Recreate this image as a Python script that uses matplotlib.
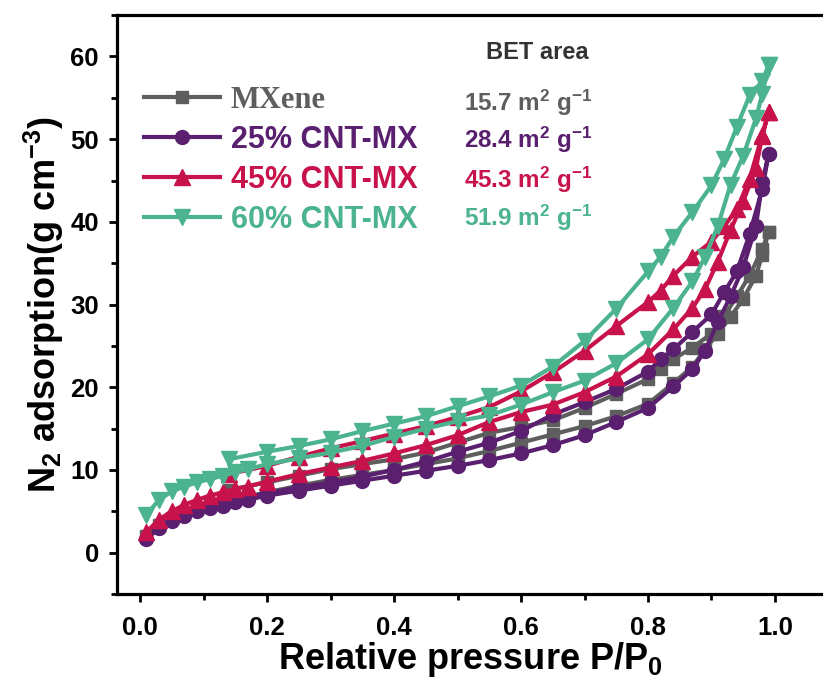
import matplotlib.pyplot as plt
from matplotlib.ticker import MultipleLocator

plt.rcParams['font.family'] = ['Liberation Sans', 'DejaVu Sans']
plt.rcParams['mathtext.default'] = 'regular'

# relative pressure grids (adsorption up, desorption down)
p_ads = [0.01, 0.03, 0.05, 0.07, 0.09, 0.11, 0.13, 0.15, 0.17, 0.2, 0.25, 0.3, 0.35, 0.4, 0.45,
         0.5, 0.55, 0.6, 0.65, 0.7, 0.75, 0.8, 0.84, 0.87, 0.89, 0.91, 0.93, 0.95, 0.97, 0.98, 0.99]
p_des = [0.99, 0.98, 0.96, 0.94, 0.92, 0.9, 0.87, 0.84, 0.82, 0.8, 0.75, 0.7, 0.65, 0.6, 0.55,
         0.5, 0.45, 0.4, 0.35, 0.3, 0.25, 0.2, 0.14]

mxene_ads = [2.0, 3.3, 4.2, 4.8, 5.4, 5.8, 6.1, 6.5, 6.8, 7.3, 8.1, 8.8, 9.4, 10.0, 10.7,
             11.4, 12.3, 13.3, 14.3, 15.3, 16.5, 18.0, 20.5, 22.5, 24.6, 26.5, 28.5, 30.7, 33.5, 36.0, 38.8]
mxene_des = [38.8, 36.7, 33.5, 31.0, 28.6, 26.5, 24.8, 23.4, 22.2, 21.0, 19.2, 17.5, 16.0, 15.2, 14.5,
             13.3, 12.1, 11.3, 10.7, 10.1, 9.3, 8.5, 7.6]

cnt25_ads = [1.6, 3.0, 3.8, 4.4, 5.0, 5.4, 5.7, 6.1, 6.4, 6.9, 7.5, 8.1, 8.7, 9.3, 9.9,
             10.5, 11.2, 12.0, 13.0, 14.2, 15.8, 17.5, 20.1, 22.2, 24.4, 27.9, 31.0, 34.5, 39.5, 44.8, 48.2]
cnt25_des = [48.2, 44.0, 38.5, 34.0, 31.5, 28.8, 26.7, 24.6, 23.4, 21.9, 19.8, 18.2, 16.7, 14.7, 13.3,
             12.2, 11.0, 10.0, 9.2, 8.5, 7.9, 7.2, 6.3]

cnt45_ads = [2.5, 4.0, 5.0, 5.8, 6.4, 6.9, 7.3, 7.7, 8.0, 8.6, 9.5, 10.3, 11.1, 12.0, 13.0,
             14.2, 15.8, 17.0, 17.9, 19.4, 21.3, 24.0, 27.0, 29.6, 31.9, 35.2, 39.0, 42.5, 46.5, 50.4, 53.3]
cnt45_des = [53.3, 50.5, 45.2, 41.5, 39.5, 37.6, 35.8, 33.5, 31.7, 30.3, 27.4, 24.4, 21.8, 19.5, 17.6,
             16.4, 15.3, 14.4, 13.5, 12.6, 11.6, 10.5, 9.5]

cnt60_ads = [4.6, 6.4, 7.4, 8.0, 8.5, 8.9, 9.3, 9.7, 10.1, 10.7, 11.4, 12.1, 12.9, 14.0, 15.0,
             15.9, 16.6, 17.9, 19.4, 20.8, 22.9, 25.8, 29.6, 32.8, 35.8, 39.5, 44.5, 48.0, 52.5, 55.5, 59.0]
cnt60_des = [59.0, 57.0, 55.3, 51.5, 47.6, 44.4, 41.2, 38.2, 35.8, 34.0, 29.5, 25.6, 22.5, 20.2, 18.9,
             17.7, 16.5, 15.6, 14.7, 13.7, 12.9, 12.2, 11.3]

labels = ['MXene', '25% CNT-MX', '45% CNT-MX', '60% CNT-MX']
bet = ['15.7 m$^2$ g$^{-1}$', '28.4 m$^2$ g$^{-1}$', '45.3 m$^2$ g$^{-1}$', '51.9 m$^2$ g$^{-1}$']
colors = ['#5e5e5e', '#5a1f6e', '#c8124b', '#4cb38f']
markers = ['s', 'o', '^', 'v']
msizes = [9, 10, 11, 11]

series = [(mxene_ads, mxene_des), (cnt25_ads, cnt25_des),
          (cnt45_ads, cnt45_des), (cnt60_ads, cnt60_des)]

fig = plt.figure(figsize=(8.23, 6.9), dpi=100)
ax = fig.add_axes([0.1422, 0.1391, 0.8578, 0.839])

handles = []
for (ads, des), c, m, ms, lab in zip(series, colors, markers, msizes, labels):
    h, = ax.plot(p_ads + p_des, ads + des, color=c, marker=m, markersize=ms,
                 linewidth=3, label=lab)
    handles.append(h)

ax.set_xlim(-0.0362, 1.0756)
ax.set_ylim(-5, 65)
ax.xaxis.set_major_locator(MultipleLocator(0.2))
ax.xaxis.set_minor_locator(MultipleLocator(0.1))
ax.yaxis.set_major_locator(MultipleLocator(10))
ax.yaxis.set_minor_locator(MultipleLocator(5))
ax.xaxis.set_major_formatter(plt.FuncFormatter(lambda v, p: f'{v:.1f}'))
ax.tick_params(which='major', direction='out', length=6, width=2, labelsize=18.5)
ax.tick_params(axis='x', which='major', pad=10)
ax.tick_params(axis='y', which='major', pad=7)
ax.tick_params(which='minor', direction='out', length=4, width=2)
ax.tick_params(top=False, right=False)
for lbl in ax.get_xticklabels() + ax.get_yticklabels():
    lbl.set_fontweight('bold')

for s in ['left', 'bottom', 'top']:
    ax.spines[s].set_linewidth(2.3)
ax.spines['right'].set_visible(False)

ax.set_xlabel('Relative pressure P/P$_0$', fontsize=26, fontweight='bold', labelpad=0)
ax.set_ylabel('N$_2$ adsorption(g cm$^{-3}$)', fontsize=26, fontweight='bold', labelpad=3)

leg = ax.legend(handles=handles, loc='upper left', bbox_to_anchor=(0.008, 0.915),
                frameon=False, fontsize=22, handlelength=2.5, handletextpad=0.33,
                labelspacing=0.33, borderaxespad=0.3)
for t, c in zip(leg.get_texts(), colors):
    t.set_color(c)
    t.set_fontweight('bold')
leg.get_texts()[0].set_fontfamily('Liberation Serif')

ax.text(0.668, 0.935, 'BET area', transform=ax.transAxes, fontsize=17,
        fontweight='bold', color='#333333', ha='right', va='center')
rows_y = [0.848, 0.784, 0.716, 0.649]
for y, b, c in zip(rows_y, bet, colors):
    ax.text(0.674, y, b, transform=ax.transAxes, fontsize=17.5, fontweight='bold',
            color=c, ha='right', va='center')

fig.savefig('out.png', dpi=100)
